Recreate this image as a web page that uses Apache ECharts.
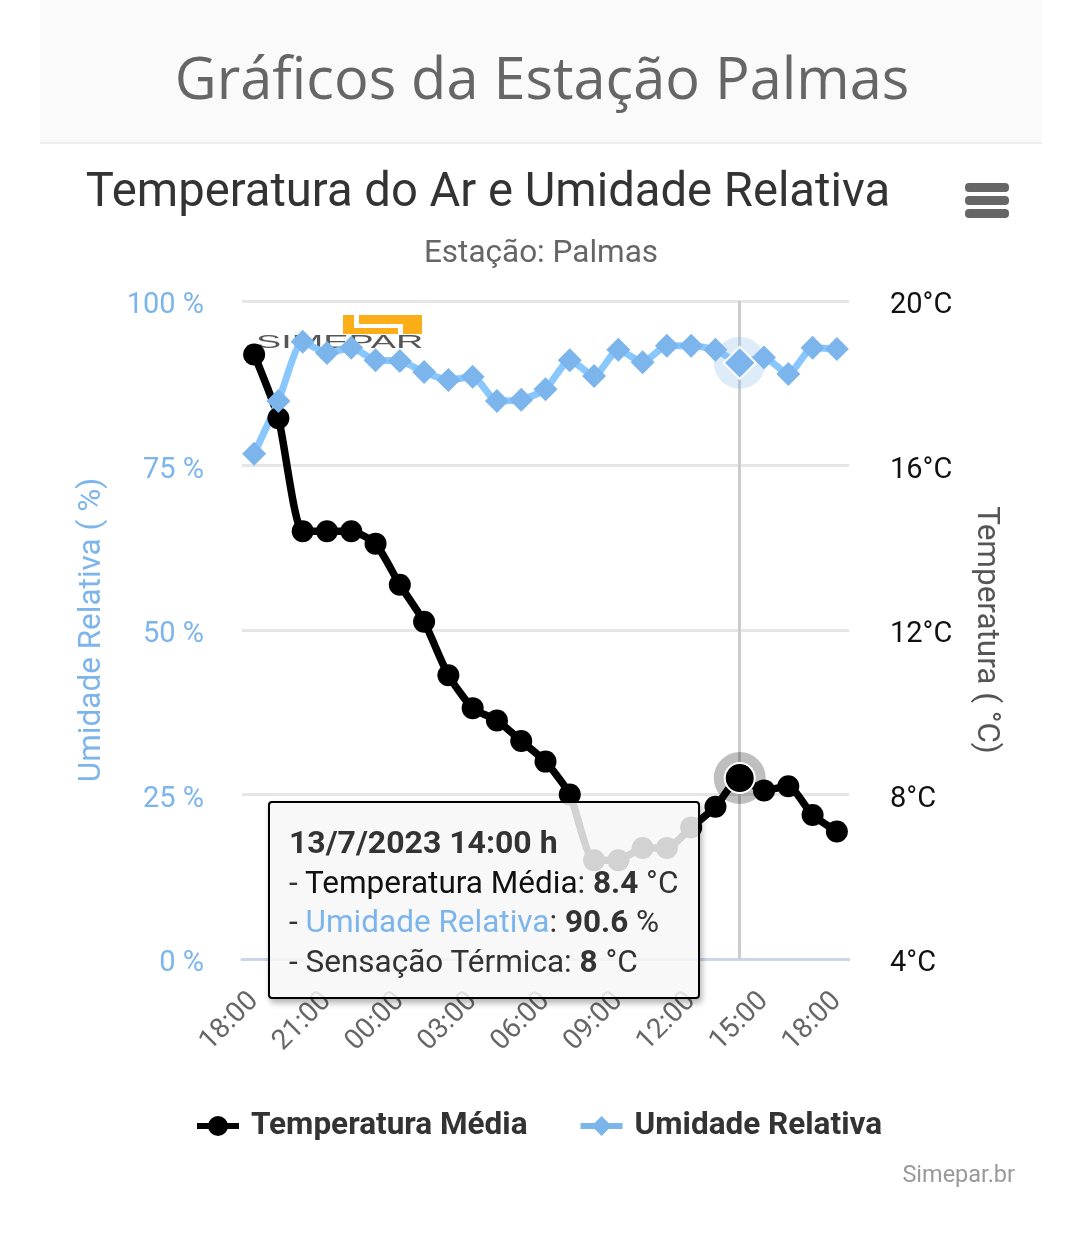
<!doctype html>
<html>
<head>
<meta charset="utf-8">
<title>Gráficos da Estação Palmas</title>
<script src="https://cdn.jsdelivr.net/npm/echarts@6/dist/echarts.min.js"></script>
<style>
  html, body { margin: 0; padding: 0; background: #fff; }
  #chart { width: 1080px; height: 1237px; }
</style>
</head>
<body>
<div id="chart"></div>
<script>
  var hours = ['18:00','19:00','20:00','21:00','22:00','23:00','00:00','01:00','02:00','03:00','04:00','05:00','06:00',
    '07:00','08:00','09:00','10:00','11:00','12:00','13:00','14:00','15:00','16:00','17:00','18:00'];
  var tempValues = [18.7,17.15,14.4,14.4,14.4,14.1,13.1,12.2,10.9,10.1,9.8,9.3,8.8,8.0,6.4,6.4,6.7,6.7,7.2,7.7,8.4,8.1,8.2,7.5,7.1];
  var humidityValues = [76.8,84.8,93.8,92.1,92.9,91,90.9,89.2,88,88.5,84.8,85,86.6,91,88.6,92.6,90.7,93.2,93.2,92.6,90.6,91.4,88.9,92.9,92.7];
  var activeIndex = 20;
  var activeDate = '13/7/2023 14:00 h';
  var feelsLike = 8;

  var blue = '#7cb5ec';
  var font = 'Roboto';

  var myChart = echarts.init(document.getElementById('chart'), null, { renderer: 'canvas' });

  var tooltipHtml = '<b style="color:#333;font-size:32px">' + activeDate + '</b><br>' +
    '- <span style="color:#111">Temperatura Média</span>: <b style="color:#333">' + tempValues[activeIndex] + '</b> <span style="color:#333">°C</span><br>' +
    '- <span style="color:' + blue + '">Umidade Relativa</span>: <b>' + humidityValues[activeIndex] + '</b> %<br>' +
    '- Sensação Térmica: <b>' + feelsLike + '</b> °C';

  var option = {
    animation: false,
    textStyle: { fontFamily: font },
    title: [
      { text: 'Gráficos da Estação Palmas', left: 537, top: 49, textAlign: 'center',
        textStyle: { fontFamily: 'Open Sans', fontSize: 57.7, fontWeight: 'normal', color: '#666' } },
      { text: 'Temperatura do Ar e Umidade Relativa', left: 483, top: 166, textAlign: 'center',
        textStyle: { fontFamily: font, fontSize: 47.2, fontWeight: 'normal', color: '#333' } },
      { text: 'Estação: Palmas', left: 536, top: 233, textAlign: 'center',
        textStyle: { fontFamily: font, fontSize: 31.5, fontWeight: 'normal', color: '#666' } },
      { text: 'Simepar.br', left: 1010, top: 1159, textAlign: 'right',
        textStyle: { fontFamily: font, fontSize: 23.5, fontWeight: 'normal', color: '#999' } }
    ],
    graphic: [
      // faixa do cabecalho
      { type: 'rect', z: -10, shape: { x: 40, y: 0, width: 1002, height: 142 }, style: { fill: '#fafafa' } },
      { type: 'rect', z: -10, shape: { x: 40, y: 142, width: 1002, height: 2 }, style: { fill: '#eeeeee' } },
      // botao de menu
      { type: 'rect', shape: { x: 965, y: 183, width: 44, height: 9, r: 4 }, style: { fill: '#666' } },
      { type: 'rect', shape: { x: 965, y: 196, width: 44, height: 9, r: 4 }, style: { fill: '#666' } },
      { type: 'rect', shape: { x: 965, y: 209, width: 44, height: 9, r: 4 }, style: { fill: '#666' } },
      // logo Simepar
      { type: 'rect', z: -5, shape: { x: 343, y: 315, width: 79, height: 19 }, style: { fill: '#fbae17' } },
      { type: 'rect', z: -5, shape: { x: 354, y: 315, width: 5, height: 13 }, style: { fill: '#fff' } },
      { type: 'rect', z: -5, shape: { x: 354, y: 324, width: 44, height: 4 }, style: { fill: '#fff' } },
      { type: 'rect', z: -5, shape: { x: 398, y: 324, width: 5, height: 10 }, style: { fill: '#fff' } },
      { type: 'text', z: -5, x: 256, y: 334, scaleX: 2.1, style: { text: 'SIMEPAR', fill: '#555',
        font: '300 18px "Liberation Sans"' } }
    ],
    grid: { left: 242, right: 231, top: 301, bottom: 278, containLabel: false },
    legend: {
      left: 194, top: 1110,
      padding: 0,
      itemWidth: 42, itemHeight: 25, itemGap: 50,
      data: ['Temperatura Média', 'Umidade Relativa'],
      lineStyle: { width: 6 },
      textStyle: { fontFamily: font, fontSize: 31.5, fontWeight: 'bold', color: '#333', padding: [0, 0, 0, 7] }
    },
    tooltip: {
      show: true,
      trigger: 'axis',
      alwaysShowContent: true,
      transitionDuration: 0,
      showDelay: 0,
      axisPointer: { type: 'line', z: 1, lineStyle: { color: '#cccccc', width: 3, type: 'solid' } },
      position: function () { return [268, 801]; },
      backgroundColor: 'rgba(247,247,247,0.85)',
      borderColor: '#000',
      borderWidth: 2,
      padding: [20, 19],
      textStyle: { fontFamily: font, fontSize: 31.5, color: '#333', lineHeight: 39 },
      extraCssText: 'box-sizing:border-box;width:432px;height:198px;border-radius:4px;box-shadow:2px 4px 6px rgba(0,0,0,.3);white-space:nowrap;line-height:39.5px;',
      formatter: function () { return tooltipHtml; }
    },
    xAxis: {
      type: 'category',
      data: hours,
      boundaryGap: true,
      axisLine: { lineStyle: { color: '#ccd6eb', width: 3 } },
      axisTick: { show: false },
      axisLabel: { interval: 2, rotate: 45, margin: 38, color: '#666', fontFamily: font, fontSize: 28 }
    },
    yAxis: [
      { type: 'value', min: 0, max: 100, interval: 25, position: 'left',
        name: 'Umidade Relativa ( %)', nameLocation: 'middle', nameRotate: 90, nameGap: 134,
        nameTextStyle: { color: blue, fontFamily: font, fontSize: 31.5 },
        axisLabel: { formatter: '{value} %', margin: 38, color: blue, fontFamily: font, fontSize: 29, verticalAlign: 'top', lineHeight: 10 },
        axisLine: { show: false }, axisTick: { show: false },
        splitLine: { lineStyle: { color: '#e6e6e6', width: 3 } } },
      { type: 'value', min: 4, max: 20, interval: 4, position: 'right',
        name: 'Temperatura ( °C)', nameLocation: 'middle', nameRotate: -90, nameGap: 121,
        nameTextStyle: { color: '#555', fontFamily: font, fontSize: 31.5 },
        axisLabel: { formatter: '{value}°C', margin: 41, color: '#111', fontFamily: font, fontSize: 29, verticalAlign: 'top', lineHeight: 10 },
        axisLine: { show: false }, axisTick: { show: false },
        splitLine: { show: false } }
    ],
    series: [
      { name: 'Temperatura Média', type: 'line', yAxisIndex: 1, data: tempValues,
        smooth: 0.2, symbol: 'circle', symbolSize: 22, showAllSymbol: true,
        lineStyle: { color: '#000', width: 7.5 }, itemStyle: { color: '#000' },
        markPoint: { silent: true, label: { show: false }, animation: false, data: [
          { coord: [activeIndex, tempValues[activeIndex]], symbol: 'circle', symbolSize: 52, itemStyle: { color: 'rgba(0,0,0,0.25)' } },
          { coord: [activeIndex, tempValues[activeIndex]], symbol: 'circle', symbolSize: 30, itemStyle: { color: '#000', borderColor: '#fff', borderWidth: 2 } }
        ] } },
      { name: 'Umidade Relativa', type: 'line', yAxisIndex: 0, data: humidityValues,
        smooth: 0.2, symbol: 'diamond', symbolSize: 24, showAllSymbol: true,
        lineStyle: { color: blue, width: 7 }, itemStyle: { color: blue },
        markPoint: { silent: true, label: { show: false }, animation: false, data: [
          { coord: [activeIndex, humidityValues[activeIndex]], symbol: 'circle', symbolSize: 52, itemStyle: { color: 'rgba(124,181,236,0.25)' } },
          { coord: [activeIndex, humidityValues[activeIndex]], symbol: 'diamond', symbolSize: 32, itemStyle: { color: blue, borderColor: '#fff', borderWidth: 2 } }
        ] } }
    ]
  };

  myChart.setOption(option);
  myChart.dispatchAction({ type: 'showTip', seriesIndex: 0, dataIndex: activeIndex });
</script>
</body>
</html>
